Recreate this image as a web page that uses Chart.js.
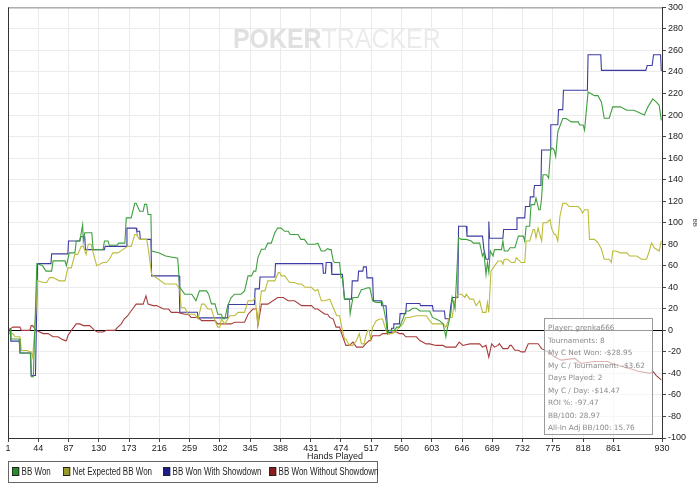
<!DOCTYPE html>
<html>
<head>
<meta charset="utf-8">
<script src="https://cdn.jsdelivr.net/npm/chart.js@4/dist/chart.umd.min.js"></script>
<style>
  html,body{margin:0;padding:0;background:#fff;}
  #wrap{position:relative;width:700px;height:490px;background:#fff;overflow:hidden;}
  #c{position:absolute;left:0;top:0;}
  #wm{position:absolute;left:233px;top:23px;font-family:'Liberation Sans',Arial,sans-serif;font-size:28px;white-space:nowrap;transform:scaleX(0.89);transform-origin:left top;}
  #wm .p{color:#e0e0e0;font-weight:bold;}
  #wm .t{color:#ebebeb;font-weight:normal;}
  #xt{position:absolute;left:0;width:670px;top:451px;text-align:center;font-family:'Liberation Sans',Arial,sans-serif;font-size:9px;color:#222;}
  #leg{position:absolute;left:8px;top:461px;width:370px;height:22px;border:1px solid #666;box-sizing:border-box;font-family:'Liberation Sans',Arial,sans-serif;font-size:10px;color:#222;}
  #leg span.i{position:absolute;top:4px;white-space:nowrap;line-height:12px;transform:scaleX(0.8);transform-origin:left center;}
  #leg span.s{display:inline-block;width:7px;height:7px;border:1px solid #222;margin-right:3px;vertical-align:-1px;}
  #info{position:absolute;left:544px;top:318px;width:109px;height:117px;border:1px solid #9a9a9a;box-sizing:border-box;background:rgba(255,255,255,0.6);font-family:'DejaVu Sans',sans-serif;font-size:7.3px;color:#8a8a8a;padding:3px 0 0 3px;line-height:12.5px;white-space:nowrap;}
</style>
</head>
<body>
<div id="wrap">
  <canvas id="c" width="700" height="490"></canvas>
  <div id="wm"><span class="p">POKER</span><span class="t">TRACKER</span></div>
  <div id="xt">Hands Played</div>
  <div id="leg"></div>
  <div id="info"></div>
</div>
<script>
// ---------- data ----------
const xTickLabels = [1,44,87,130,173,216,259,302,345,388,431,474,517,560,603,646,689,732,775,818,861,930];
const seriesNames = ['BB Won','Net Expected BB Won','BB Won With Showdown','BB Won Without Showdown'];

const bbWonHands = [1,4,5,17,18,31,33,34,37,42,50,55,63,65,82,84,88,96,98,103,107,108,110,120,122,136,138,143,145,156,158,167,169,176,181,183,188,193,195,198,200,204,205,215,225,242,245,252,262,268,273,283,286,290,295,299,304,306,309,313,318,323,332,337,342,347,350,353,356,361,366,370,375,380,384,389,394,399,402,413,417,422,427,437,441,446,451,455,458,460,463,465,472,474,476,479,486,487,491,498,503,505,512,515,519,524,533,538,540,543,550,553,557,562,566,571,576,581,586,600,604,614,619,623,625,630,632,636,641,645,652,659,662,671,675,677,680,682,684,686,690,692,702,704,706,711,714,721,723,726,733,735,737,742,744,749,751,755,757,759,761,766,769,772,775,777,779,782,789,794,801,811,813,818,820,825,834,839,844,848,855,860,864,871,880,890,905,910,917,922,926,929];
const bbWonValues = [1,1,-8,-8,-21,-21,-22,-43,-43,62,60,55,55,64.5,64.5,60,72,72,83,83,98,83,90.6,90.6,75,75,83,83,79,79,81,81,104.5,104.5,118,118,110.6,110.6,117,117,107.6,107.6,73.7,72,69,67,40,33.6,33.6,27.5,36.7,36.7,33.6,24.6,24.6,15,15,10.8,10.8,22.8,30.5,33.6,33.6,36.7,50.6,50.6,55,55,67.6,75.3,75.3,81,81,90.6,95,95,92,92,89,89,84.5,84.5,80,80,81,73.7,73.7,76,75,75,64.4,63,63,49,49,29,29,15.5,30.5,30.5,38,38,39.5,39.5,27.5,26,26,9,-3,0,0,3,3,10.5,18,18,20.5,20.5,18,18,12,9,6,-6,1.6,15.5,30.5,20,86,84.5,84.5,83,81,81,69,72,52,63,54,73.7,69,75,75,83,73.7,73.7,76.7,76.7,81,87.5,87.5,83,96.7,96.7,116.8,116.8,123,112,112,123,144.5,144.5,141.4,169,169,167,161.4,184.5,196.8,196.8,193.7,193.7,190.7,190.7,186,221.5,218,218,212,197,197,207.6,207.6,207.6,204.5,204.5,200,207.6,215,212,209,195];

const netExpHands = [1,3,8,11,18,20,29,32,34,36,39,43,51,56,60,65,74,82,86,91,96,100,105,108,112,115,119,122,127,136,141,145,150,157,164,171,176,181,183,188,198,200,205,224,240,245,247,252,257,266,271,276,280,285,290,295,299,302,304,309,316,323,328,337,342,349,352,356,359,361,366,370,380,385,387,389,394,401,408,413,418,423,432,437,441,446,451,458,463,468,472,476,479,481,486,491,496,500,503,507,509,512,514,516,519,524,529,533,538,540,547,553,557,562,566,571,581,595,600,604,619,623,628,632,635,640,645,650,652,657,662,666,671,675,680,682,684,687,692,697,702,704,706,711,716,721,723,730,735,737,742,747,749,751,754,759,761,766,771,773,777,779,782,785,789,794,798,811,815,817,820,825,827,834,839,844,848,855,858,860,864,871,880,884,894,901,908,912,915,919,926,929];
const netExpValues = [0,-3,-3,-6,-6,-18.7,-18.7,-20,-20,-25,0,46,44.4,44.4,49,49,46,46,58,58,70.6,70.6,78,78,70.6,80,80,72,60,63,63,66,72,72,75,78,78,89,89,84.5,84.5,76.7,52,43,43,38,21,21,15,15,10.5,24.4,24.4,19.8,19.8,9,3,3,10.5,6,13.6,13.6,16.7,16.7,27.5,27.5,30.5,4.4,26,36.7,36.7,46,46,53.7,53.7,50.6,50.6,44.4,44.4,43,43,40,40,36.7,38,27.5,27.5,29,21,13.6,13.6,0,-8,-8,-14,-14,-9.5,-3,-12.6,-12.6,-6,0,0,-8,3,9,10.5,10.5,0,-3,-3,0,3,6,12,12,13.6,13.6,9,6,6,3,12,12,26,33.6,33.6,30.5,33.6,29,29,23,27.5,16.7,16.7,26,16.7,55,59.6,64.4,64.4,61.4,66,66,63,63,67.6,63,63,83,83,93.7,93.7,86,95,83,100,100,103,95,89,89,83,106,118,118,115,115,112,109,112,112,84.5,84.5,81.5,75.3,66,66,63,73.7,73.7,72,72,69,69,66,66,73.7,81.3,76.7,73.7,83];

const showdownHands = [1,4,5,17,18,33,34,40,43,62,63,86,87,103,104,110,111,138,139,169,170,183,184,188,189,204,205,244,245,270,271,313,314,351,352,358,359,380,381,448,449,452,453,460,461,476,479,489,490,498,499,505,506,510,511,519,520,531,532,538,540,541,545,546,548,549,557,558,566,567,586,587,604,605,621,622,628,630,632,640,641,652,653,675,677,680,683,684,685,704,705,723,724,735,736,742,743,747,748,749,758,759,771,772,782,783,789,790,824,825,843,844,907,909,916,918,928,929];
const showdownValues = [1,1,-10,-10,-21,-21,-42,-42,62,62,71,71,83,83,87,87,75,75,78,78,95,95,92,92,84.5,84.5,50.6,50.6,16.8,16.8,11.6,11.6,24,24,38.5,38.5,49.6,49.6,62,62,53,53,63,63,52,52,29,29,46,46,55,55,59,59,48.7,48.7,27.5,27.5,22.8,22.8,1.6,-2,-2,2,2,6,6,15.5,15.5,25,25,23,23,18,18,10.8,10.8,23,30.5,30.5,96.7,96.7,87.5,87.5,75.5,66,66,101,85.5,85.5,93.7,93.7,104.5,104.5,115,115,124,124,130,134.6,134.6,167.6,167.6,191,191,205,205,223,223,256,256,241.5,241.5,246,246,256,256,241];

const noShowdownHands = [1,8,18,20,32,34,36,41,51,58,65,72,77,82,84,86,91,98,103,108,117,124,128,136,141,153,157,162,166,171,178,183,193,197,200,207,212,222,229,233,242,252,257,261,271,276,295,299,318,323,337,342,349,354,356,361,370,384,392,399,408,418,432,437,441,451,455,458,463,467,472,476,481,486,491,496,505,509,514,516,519,529,533,543,547,553,557,562,566,581,586,595,600,609,619,623,637,642,647,657,671,675,680,684,688,692,697,699,704,711,714,716,721,726,730,735,740,754,759,768,777,787,806,815,834,853,863,882,896,913,917,922,929];
const noShowdownValues = [0,3,3,0,0,4.4,4.4,0,-3,-3,-6,-6,-8,-9.5,-9.5,-5,0,6,6,4.4,4.4,0,-1.6,-1.6,0,0,3,6,10.5,13.6,19.8,24.4,24.4,32,24.4,23,23,19.8,19.8,16.7,16.7,15,15,12,12,9,9,6,6,7.5,7.5,15,19.8,19.8,4.4,24.4,24.4,30.5,30.5,27.5,27.5,23,23,19.8,19.8,15,15,12,10.5,3,3,-5,-14,-14,-11,-15.6,-15.6,-12.6,-9.5,-9.5,-5,-5,-3,-3,-1.6,-1.6,-3,-3,-6,-6,-9.5,-12.6,-12.6,-14,-14,-15.6,-15.6,-11,-14,-12.6,-12.6,-15.6,-14,-25,-12.6,-15.6,-14,-12.4,-17,-17,-14,-14,-18.5,-18.5,-20,-20,-12.4,-12.4,-17,-20,-24.6,-27.7,-26,-30.8,-29,-29,-32,-35,-38,-40,-38,-42,-46];

const infoLines = ['Player: grenka666','Tournaments: 8','My C Net Won: -$28.95','My C / Tournament: -$3.62','Days Played: 2','My C / Day: -$14.47','ROI %: -97.47','BB/100: 28.97','All-In Adj BB/100: 15.76'];

// ---------- styles ----------
const lineColors = ['#3f9f3f','#bcbc3c','#3c3ca2','#a83c3c'];
const swatchColors = ['#2a8a2a','#9a9a2a','#1e1e8a','#8a1e1e'];

const pts = (h, v) => h.map((x, i) => ({x: x, y: v[i]}));
const data = {
  datasets: [
    {label: seriesNames[0], data: pts(bbWonHands, bbWonValues), borderColor: lineColors[0]},
    {label: seriesNames[1], data: pts(netExpHands, netExpValues), borderColor: lineColors[1]},
    {label: seriesNames[2], data: pts(showdownHands, showdownValues), borderColor: lineColors[2]},
    {label: seriesNames[3], data: pts(noShowdownHands, noShowdownValues), borderColor: lineColors[3]}
  ]
};

const framePlugin = {
  id: 'frame',
  afterDraw(chart) {
    const {ctx, chartArea: a} = chart;
    ctx.save();
    ctx.lineWidth = 1;
    ctx.strokeStyle = '#8a8a8a';
    ctx.beginPath(); ctx.moveTo(a.left, a.top + 0.5); ctx.lineTo(a.right, a.top + 0.5); ctx.stroke();
    ctx.strokeStyle = '#333';
    ctx.beginPath(); ctx.moveTo(a.left + 0.5, a.top); ctx.lineTo(a.left + 0.5, a.bottom); ctx.stroke();
    ctx.restore();
  }
};

Chart.defaults.font.family = "'Liberation Sans',Arial,sans-serif";
Chart.defaults.font.size = 9;
Chart.defaults.color = '#222';

new Chart(document.getElementById('c'), {
  type: 'line',
  data: data,
  options: {
    responsive: false,
    animation: false,
    devicePixelRatio: 1,
    layout: {padding: {left: 8, top: 5, right: 0, bottom: 0}},
    elements: {point: {radius: 0}, line: {borderWidth: 1.1, tension: 0, fill: false}},
    plugins: {legend: {display: false}, tooltip: {enabled: false}},
    scales: {
      x: {
        type: 'linear', min: 1, max: 930,
        afterBuildTicks: s => { s.ticks = xTickLabels.map(v => ({value: v})); },
        afterFit: s => { s.height = 52; },
        grid: {color: '#ebebeb', tickColor: '#444', tickLength: 4, drawTicks: true},
        border: {color: '#333'},
        ticks: {autoSkip: false, maxRotation: 0, padding: 1, color: '#222', font: {size: 9}}
      },
      y: {
        position: 'right', min: -100, max: 300,
        afterFit: s => { s.width = 38; },
        grid: {
          color: c => (c.tick && c.tick.value === 0) ? '#000' : '#ebebeb',
          tickColor: '#444', tickLength: 4
        },
        border: {color: '#333'},
        ticks: {stepSize: 20, padding: 2, color: '#222', font: {size: 9}},
        title: {display: true, text: 'BB', font: {size: 6}, color: '#333', padding: {top: 2, bottom: 2}}
      }
    }
  },
  plugins: [framePlugin]
});

// legend and info box as real text
const legPos = [12, 63, 163, 269];
document.getElementById('leg').innerHTML = seriesNames.map((n, i) =>
  `<span class="i" style="left:${legPos[i] - 9}px"><span class="s" style="background:${swatchColors[i]}"></span>${n}</span>`).join('');
document.getElementById('info').innerHTML = infoLines.join('<br>');
</script>
</body>
</html>
